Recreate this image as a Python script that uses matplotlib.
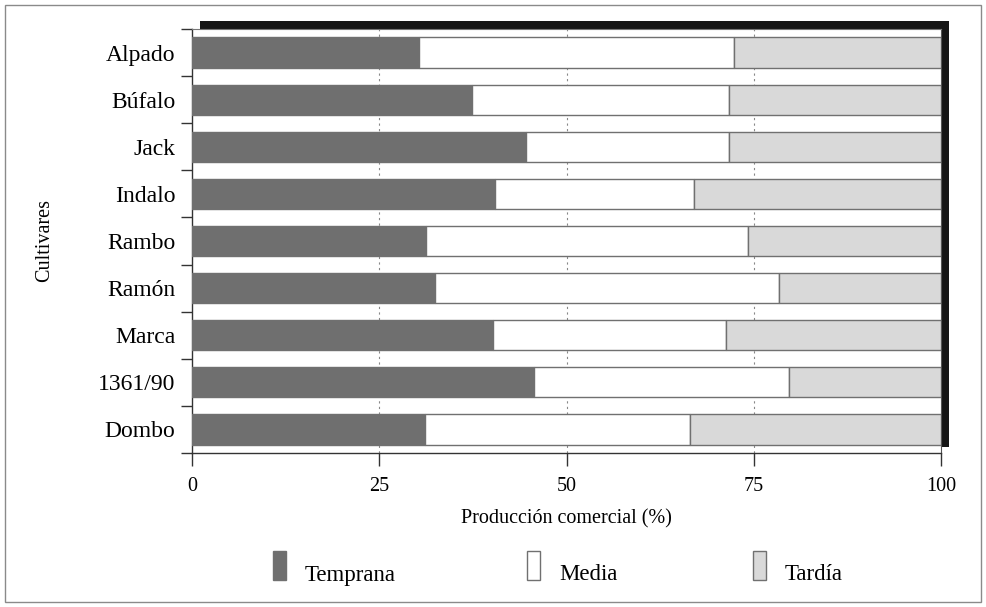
import matplotlib
matplotlib.use("Agg")
import matplotlib.pyplot as plt
from matplotlib.patches import Rectangle
import numpy as np

plt.rcParams['font.family'] = ['Liberation Serif', 'DejaVu Serif']

cultivares = ["Alpado", "Búfalo", "Jack", "Indalo", "Rambo", "Ramón", "Marca", "1361/90", "Dombo"]
temprana = [30.3, 37.4, 44.6, 40.5, 31.2, 32.4, 40.2, 45.7, 31.1]
media = [42.1, 34.3, 27.1, 26.5, 43.0, 46.0, 31.1, 34.0, 35.4]
tardia = [100 - t - m for t, m in zip(temprana, media)]
series_names = ["Temprana", "Media", "Tardía"]
series_colors = ["#6f6f6f", "#ffffff", "#d9d9d9"]
xticks = [0, 25, 50, 75, 100]

W, H = 986, 607
fig = plt.figure(figsize=(W / 100, H / 100), dpi=100)

# outer border
fig.patches.append(Rectangle((5 / W, 5 / H), 976 / W, 597 / H, transform=fig.transFigure,
                             fill=False, edgecolor="#8a8a8a", linewidth=1.0, zorder=-2))

x0, x1, ytop, ybot = 192, 941, 29, 453
ax = fig.add_axes([x0 / W, 1 - ybot / H, (x1 - x0) / W, (ybot - ytop) / H])
ax.set_facecolor("white")

# shadow behind axes (top-right depth effect)
sh_bot, sh_top = ybot - 6, 21
fig.patches.append(Rectangle(((x0 + 8) / W, 1 - sh_bot / H), (x1 - x0) / W, (sh_bot - sh_top) / H,
                             transform=fig.transFigure, facecolor="#151515", edgecolor="none", zorder=-1))

n = len(cultivares)
y = np.arange(n)[::-1]
left = np.zeros(n)
for vals, name, col in zip([temprana, media, tardia], series_names, series_colors):
    ax.barh(y, vals, left=left, height=0.64, color=col, edgecolor="#707070", linewidth=1.0,
            label=name, zorder=3)
    left += np.array(vals)

ax.set_xlim(0, 100)
ax.set_ylim(-0.5, n - 0.5)
ax.set_xticks(xticks)
ax.set_xticklabels([str(v) for v in xticks], fontsize=14.5)
ax.set_yticks(y)
ax.set_yticklabels(cultivares, fontsize=17)
ax.set_yticks(np.arange(-0.5, n, 1.0), minor=True)
ax.tick_params(axis="y", which="major", length=0, pad=12)
ax.tick_params(axis="y", which="minor", length=8, width=1, color="#333333")
ax.tick_params(axis="x", which="major", length=9, width=1, color="#333333", pad=8)

for xv in xticks[1:-1]:
    ax.axvline(xv, color="#888888", linestyle=(0, (2, 3)), linewidth=0.8, zorder=1)

for s in ["left", "bottom"]:
    ax.spines[s].set_color("#333333")
    ax.spines[s].set_linewidth(1.0)
ax.spines["top"].set_color("#777777")
ax.spines["top"].set_linewidth(0.8)
ax.spines["right"].set_color("#555555")
ax.spines["right"].set_linewidth(0.8)

fig.text(566 / W, 1 - 519 / H, "Producción comercial (%)", ha="center", va="center", fontsize=14.5)
fig.text(45 / W, 1 - 241 / H, "Cultivares", ha="center", va="center", rotation=90, fontsize=14.5)

# legend
leg_x = [273, 527, 753]
for lx, name, col in zip(leg_x, series_names, series_colors):
    fig.patches.append(Rectangle((lx / W, 1 - 580 / H), 13 / W, 29 / H, transform=fig.transFigure,
                                 facecolor=col, edgecolor="#707070", linewidth=1.0))
    fig.text((lx + 32) / W, 1 - 575 / H, name, ha="left", va="center", fontsize=16.5)

fig.savefig("out.png", dpi=100, facecolor="white")
